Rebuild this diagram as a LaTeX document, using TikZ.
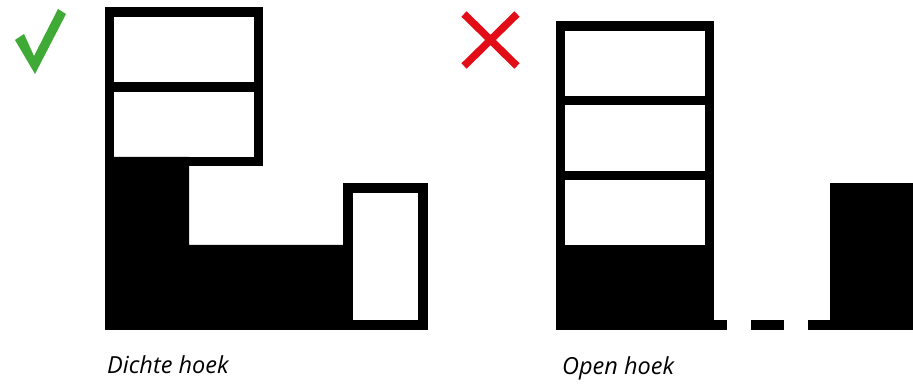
\documentclass[tikz,border=0pt]{standalone}
\usepackage{fontspec}
\setmainfont{Open Sans}
\usetikzlibrary{positioning}
\definecolor{okgreen}{HTML}{3FAA35}
\definecolor{badred}{HTML}{E30D17}
\tikzset{
  wall/.style={draw=black, line width=9.5pt},
  solid mass/.style={fill=black},
  caption/.style={font=\fontsize{23.5}{28}\selectfont\itshape, anchor=base west, inner sep=0pt},
  cross/.style={draw=badred, line width=7.5pt}
}

\begin{document}
\begin{tikzpicture}[x=1pt,y=-1pt]
  \useasboundingbox (0,0) rectangle (913,387);

  % goed: dichte hoek
  \fill[okgreen] (15,40) -- (24,34) -- (34,56) -- (58,9) -- (66,14) -- (35,74) -- cycle;
  \draw[wall] (109.7,12) rectangle (258.5,161.5);
  \draw[wall] (105,87) -- (263,87);
  \fill[solid mass] (105,157) -- (189,157) -- (189,245) -- (343,245) -- (343,330) -- (105,330) -- cycle;
  \draw[wall] (348,188) rectangle (423,325);
  \node[caption] (dicht) at (107,373) {Dichte hoek};

  % fout: open hoek
  \coordinate (xa) at (464,14);
  \coordinate (xb) at (517,66);
  \coordinate (xc) at (517,14);
  \coordinate (xd) at (464,66);
  \draw[cross] (xa) -- (xb);
  \draw[cross] (xc) -- (xd);
  \draw[wall] (560.5,26) -- (709.5,26);
  \draw[wall] (560.5,21) -- (560.5,250);
  \draw[wall] (709.5,21) -- (709.5,250);
  \draw[wall] (556,100.5) -- (714,100.5);
  \draw[wall] (556,175.5) -- (714,175.5);
  \fill[solid mass] (556,245) rectangle (714,330);
  \foreach \a/\b in {714/727, 751/784, 808/830}
    \fill[solid mass] (\a,320) rectangle (\b,330);
  \fill[solid mass] (830,183) rectangle (913,330);
  \node[caption] (open) at (562,374) {Open hoek};
\end{tikzpicture}
\end{document}
